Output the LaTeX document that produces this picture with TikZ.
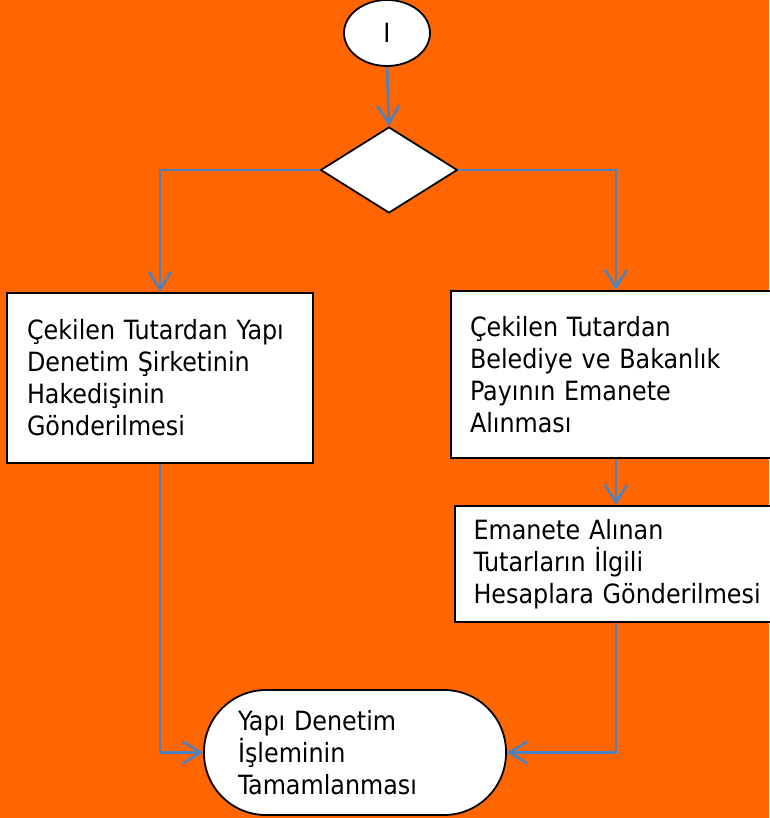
\documentclass[tikz,border=0pt]{standalone}
\usepackage{fontspec}
\setmainfont{DejaVu Sans Condensed}
\usetikzlibrary{shapes.geometric,arrows.meta}
\definecolor{bgorange}{RGB}{255,102,0}
\definecolor{linkblue}{RGB}{79,129,189}
\begin{document}
\begin{tikzpicture}[x=1pt,y=-1pt]
\tikzstyle{every node}+=[font=\fontsize{26.5}{32}\selectfont]
\tikzstyle{outline}=[draw=black,line width=1.8pt,fill=white,inner sep=0pt]
\tikzstyle{box}=[outline,align=left]
\tikzstyle{link}=[draw=linkblue,line width=2.6pt,-{Straight Barb[length=18pt,width=22pt]}]
\fill [bgorange] (0,0) rectangle (769,818);
\useasboundingbox (0,0) rectangle (769,818);
\node [outline,ellipse,minimum width=86,minimum height=66] (start) at (387,33) {I};
\node [outline,diamond,minimum width=137,minimum height=86] (dec) at (389,170) {};
\node [box,text width=266,inner xsep=20,minimum height=170] (left) at (160,378)
  {\mbox{Çekilen Tutardan Yapı}\\Denetim Şirketinin\\Hakedişinin\\Gönderilmesi};
\node [box,text width=292,inner xsep=19,minimum height=167] (right1) at (616,374.5)
  {Çekilen Tutardan\\Belediye ve Bakanlık\\Payının Emanete\\Alınması};
\node [box,text width=285,inner xsep=18.5,minimum height=116] (right2) at (616,564)
  {Emanete Alınan\\Tutarların İlgili\\\mbox{Hesaplara Gönderilmesi}};
\node [box,rounded corners=62pt,text width=234,inner xsep=34,minimum height=125] (term) at (355,752.5)
  {Yapı Denetim\\İşleminin\\Tamamlanması};
\draw [link] (start.south) -- (dec.north);
\draw [link] (dec.west) -| (left.north);
\draw [link] (dec.east) -| (right1.north);
\draw [link] (right1.south) -- (right2.north);
\draw [link] (left.south) |- (term.west);
\draw [link] (right2.south) |- (term.east);
\end{tikzpicture}
\end{document}
